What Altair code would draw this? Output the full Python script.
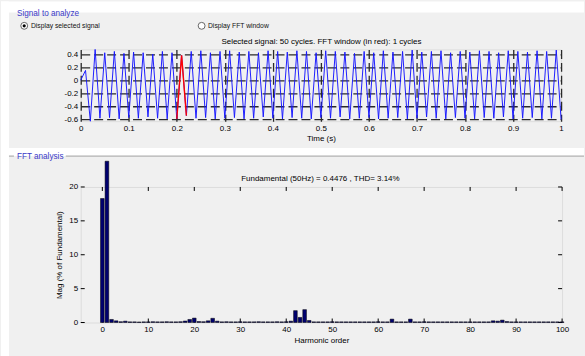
import altair as alt
import pandas as pd

FONT = "Liberation Sans"

# ---------------- data: selected signal (50 Hz, 50 cycles) ----------------
SAMPLE_STEP = 0.01  # time between the plotted samples (s)
start_value = 0.0
peak_values = [0.15, 0.47, 0.42, 0.44, 0.41, 0.43, 0.42, 0.40, 0.44, 0.42,
               0.38, 0.44, 0.45, 0.42, 0.44, 0.45, 0.43, 0.44, 0.42, 0.45,
               0.44, 0.43, 0.45, 0.44, 0.42, 0.45, 0.44, 0.43, 0.41, 0.44,
               0.42, 0.45, 0.43, 0.44, 0.46, 0.43, 0.44, 0.45, 0.42, 0.44,
               0.43, 0.45, 0.44, 0.42, 0.45, 0.44, 0.43, 0.45, 0.44, 0.46]
trough_values = [-0.625, -0.58, -0.57, -0.59, -0.57, -0.58, -0.56, -0.58, -0.59, -0.59,
                 -0.54, -0.58, -0.57, -0.59, -0.58, -0.57, -0.59, -0.58, -0.56, -0.58,
                 -0.59, -0.57, -0.58, -0.59, -0.57, -0.58, -0.56, -0.59, -0.58, -0.57,
                 -0.59, -0.58, -0.57, -0.59, -0.58, -0.56, -0.58, -0.59, -0.57, -0.58,
                 -0.59, -0.57, -0.58, -0.56, -0.59, -0.58, -0.57, -0.59, -0.58, -0.60]
fft_window = [0.20, 0.22]
time_ticks = [0, 0.1, 0.2, 0.3, 0.4, 0.5, 0.6, 0.7, 0.8, 0.9, 1.0]
signal_ticks = [-0.6, -0.4, -0.2, 0, 0.2, 0.4]
signal_range = [-0.625, 0.47]

# ---------------- data: FFT spectrum (% of fundamental) ----------------
harmonic_mag = [
    18.3, 100, 0.45, 0.25, 0.12, 0.2, 0.1, 0.1, 0.08, 0.1,
    0.1, 0.12, 0.1, 0.1, 0.12, 0.1, 0.1, 0.12, 0.22, 0.45,
    0.65, 0.15, 0.12, 0.25, 0.62, 0.2, 0.1, 0.12, 0.1, 0.1,
    0.12, 0.1, 0.1, 0.1, 0.12, 0.1, 0.1, 0.1, 0.12, 0.1,
    0.12, 0.2, 1.75, 0.75, 1.9, 0.3, 0.1, 0.1, 0.1, 0.1,
    0.12, 0.1, 0.1, 0.1, 0.1, 0.1, 0.1, 0.1, 0.1, 0.1,
    0.12, 0.1, 0.1, 0.5, 0.1, 0.1, 0.1, 0.5, 0.1, 0.1,
    0.12, 0.1, 0.1, 0.1, 0.1, 0.1, 0.1, 0.1, 0.1, 0.1,
    0.1, 0.1, 0.1, 0.1, 0.1, 0.25, 0.2, 0.35, 0.15, 0.1,
    0.1, 0.1, 0.1, 0.1, 0.1, 0.1, 0.1, 0.1, 0.1, 0.1, 0.1]
harmonic_ticks = [0, 10, 20, 30, 40, 50, 60, 70, 80, 90, 100]
mag_ticks = [0, 5, 10, 15, 20]
harmonic_range = [-4.7, 100]
mag_range = [0, 20]
bar_visible_top = 23.8

top_title = "Selected signal: 50 cycles. FFT window (in red): 1 cycles"
bottom_title = "Fundamental (50Hz) = 0.4476 , THD= 3.14%"

# ---------------- build tables ----------------
values = [start_value]
for p, tr in zip(peak_values, trough_values):
    values += [p, tr]
times = [round(i * SAMPLE_STEP, 2) for i in range(len(values))]
sig_df = pd.DataFrame({"t": times, "v": values})
fft_df = pd.DataFrame({"h": list(range(len(harmonic_mag))), "mag": harmonic_mag})
dummy = pd.DataFrame({"k": [0]})

minus_fix = "replace(format(datum.value, '~g'), '\u2212', '-')"
int_fmt = "format(datum.value, 'd')"

axis_common = dict(labelFont=FONT, labelFontSize=8, labelColor="black",
                   titleFont=FONT, titleFontSize=8, titleColor="black",
                   titleFontWeight="normal", ticks=False, domain=False,
                   labelFlush=False, labelOverlap=False)
grid_style = dict(grid=True, gridDash=[9, 4], gridColor="#2a2a2a", gridWidth=1.3)

W_TOP, H_TOP = 482, 72
W_BOT, H_BOT = 483, 136

x_top = alt.X("t:Q", scale=alt.Scale(domain=[0, 1], nice=False, zero=False),
              axis=alt.Axis(values=time_ticks, labelExpr=minus_fix, title="Time (s)",
                            labelPadding=3, titlePadding=2, **grid_style, **axis_common))
y_top = alt.Y("v:Q", scale=alt.Scale(domain=signal_range, nice=False, zero=False),
              axis=alt.Axis(values=signal_ticks, labelExpr=minus_fix, title=None,
                            labelPadding=3, **grid_style, **axis_common))

sig_line = alt.Chart(sig_df).mark_line(color="#1414ff", strokeWidth=0.95).encode(x=x_top, y=y_top)
win_line = alt.Chart(sig_df).transform_filter(
    (alt.datum.t >= fft_window[0] - 1e-6) & (alt.datum.t <= fft_window[1] + 1e-6)
).mark_line(color="#ff0000", strokeWidth=1.4).encode(x=x_top, y=y_top)


def rect(x, x2, y, y2, color):
    return alt.Chart(dummy).mark_rect(fill=color).encode(
        x=alt.value(x), x2=alt.value(x2), y=alt.value(y), y2=alt.value(y2))


def label(txt, x, y, size, color, align="left", baseline="middle"):
    return alt.Chart(dummy).mark_text(text=txt, align=align, baseline=baseline,
                                      font=FONT, fontSize=size, color=color).encode(
        x=alt.value(x), y=alt.value(y))


# decorations, in the top plot's pixel frame (plot origin is at page 80,48)
PANEL_BLUE = "#3a3ac8"
decor = [
    rect(-80, -72, -48, 308, "white"),      # left white strip
    rect(-80, 505, -48, -37, "white"),      # top white strip
    rect(-80, 505, 99, 107, "white"),       # strip between the panels
    alt.Chart(dummy).mark_rule(color="#a0a0a0").encode(
        x=alt.value(-72), x2=alt.value(-67), y=alt.value(107)),
    alt.Chart(dummy).mark_rule(color="#a0a0a0").encode(
        x=alt.value(-15), x2=alt.value(505), y=alt.value(107)),
    label("Signal to analyze", -64, -36, 8.2, PANEL_BLUE),
    label("FFT analysis", -64, 108, 8.2, PANEL_BLUE),
    alt.Chart(dummy).mark_point(shape="circle", filled=True, fill="white", stroke="#666666",
                                strokeWidth=1, size=48, opacity=1).encode(
        x=alt.value(-56.7), y=alt.value(-23.7)),
    alt.Chart(dummy).mark_point(shape="circle", filled=True, color="black", size=10, opacity=1).encode(
        x=alt.value(-56.7), y=alt.value(-23.7)),
    label("Display selected signal", -50, -23.7, 6.8, "#111111"),
    alt.Chart(dummy).mark_point(shape="circle", filled=True, fill="white", stroke="#666666",
                                strokeWidth=1, size=48, opacity=1).encode(
        x=alt.value(121.3), y=alt.value(-23.7)),
    label("Display FFT window", 127.7, -23.7, 6.8, "#111111"),
    label(top_title, 241.5, -5.5, 8, "black", align="center", baseline="alphabetic"),
]

top = alt.layer(*decor, sig_line, win_line).properties(width=W_TOP, height=H_TOP)

# ---------------- bottom: FFT bars ----------------
x_bot = alt.X("x0:Q", scale=alt.Scale(domain=harmonic_range, nice=False, zero=False),
              axis=alt.Axis(values=harmonic_ticks, labelExpr=int_fmt, title="Harmonic order",
                            labelPadding=3, titlePadding=3, grid=False, **axis_common))
y_bot = alt.Y("top:Q", scale=alt.Scale(domain=mag_range, nice=False),
              axis=alt.Axis(values=mag_ticks, labelExpr=int_fmt, title="Mag (% of Fundamental)",
                            labelPadding=3, titlePadding=5, grid=False, **axis_common))

bars = alt.Chart(fft_df).transform_calculate(
    x0="datum.h - 0.4", x1="datum.h + 0.4", top=f"min(datum.mag, {bar_visible_top})"
).mark_bar(fill="#00006e", stroke="black", strokeWidth=0.5, clip=False).encode(
    x=x_bot, x2="x1:Q", y=y_bot, y2=alt.datum(0))

xt_df = pd.DataFrame({"x0": harmonic_ticks})
yt_df = pd.DataFrame({"top": mag_ticks})
TL = 4
tick_layers = [
    alt.Chart(xt_df).mark_rule(color="black").encode(x=x_bot, y=alt.value(H_BOT), y2=alt.value(H_BOT - TL)),
    alt.Chart(xt_df).mark_rule(color="black").encode(x=x_bot, y=alt.value(0), y2=alt.value(TL)),
    alt.Chart(yt_df).mark_rule(color="black").encode(y=y_bot, x=alt.value(0), x2=alt.value(TL)),
    alt.Chart(yt_df).mark_rule(color="black").encode(y=y_bot, x=alt.value(W_BOT), x2=alt.value(W_BOT - TL)),
    label(bottom_title, 240.5, -6, 8, "black", align="center", baseline="alphabetic"),
]

bottom = alt.layer(*tick_layers, bars).properties(width=W_BOT, height=H_BOT)

chart = alt.vconcat(top, bottom, spacing=66, bounds="flush").properties(
    padding=0, background="#f0f0f0"
).configure_view(fill="white", stroke="black", strokeWidth=1.3
).configure(font=FONT)

chart.save("out.html", embed_options={"renderer": "svg", "actions": False})
